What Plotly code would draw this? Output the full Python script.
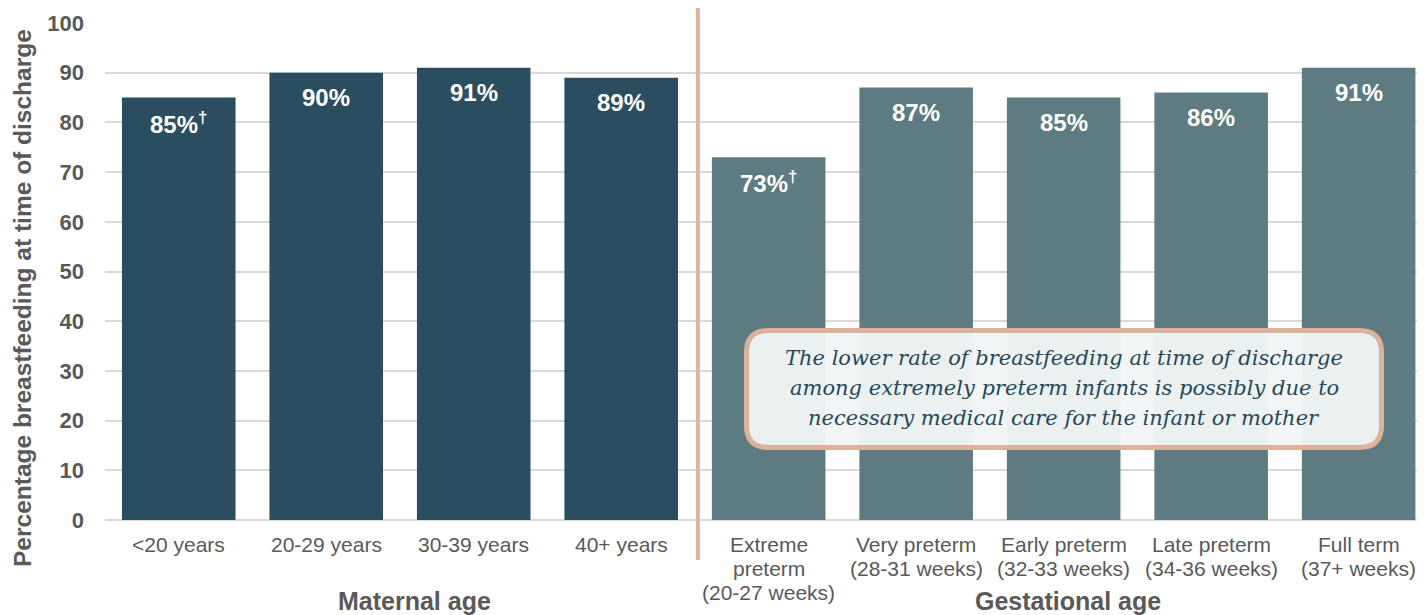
import plotly.graph_objects as go

# ---- data ----
maternal_labels = ["<20 years", "20-29 years", "30-39 years", "40+ years"]
maternal_values = [85, 90, 91, 89]
maternal_text = ["85%<sup>†</sup>", "90%", "91%", "89%"]

gest_labels = ["Extreme<br>preterm<br>(20-27 weeks)", "Very preterm<br>(28-31 weeks)",
               "Early preterm<br>(32-33 weeks)", "Late preterm<br>(34-36 weeks)",
               "Full term<br>(37+ weeks)"]
gest_values = [73, 87, 85, 86, 91]
gest_text = ["73%<sup>†</sup>", "87%", "85%", "86%", "91%"]

y_ticks = [0, 10, 20, 30, 40, 50, 60, 70, 80, 90, 100]

note_lines = ["The lower rate of breastfeeding at time of discharge",
              "among extremely preterm infants is possibly due to",
              "necessary medical care for the infant or mother"]

# ---- style ----
DARK = "#2a4d5f"
LIGHT = "#5d7b80"
ACCENT = "#dbb39d"
GRAY = "#595959"
SANS = "Liberation Sans, Arial, sans-serif"
OFF = 8                      # page body margin in the browser
W, H = 1425 - OFF, 615 - OFF
ML, MT = 105 - OFF, 23 - OFF
PLOT_BOTTOM = 520 - OFF
MR, MB = 0, H - PLOT_BOTTOM
PW, PH = W - ML - MR, H - MT - MB


def px2paper_x(px):
    """screen pixel -> paper x"""
    return (px - OFF - ML) / PW


def px2paper_y(py):
    """screen pixel -> paper y"""
    return (PLOT_BOTTOM - (py - OFF)) / PH


fig = go.Figure()
fig.add_trace(go.Bar(x=maternal_labels, y=maternal_values, marker_color=DARK,
                     marker_line_width=0, width=0.77, hoverinfo="y"))
fig.add_trace(go.Bar(x=gest_labels, y=gest_values, marker_color=LIGHT,
                     marker_line_width=0, width=0.77, hoverinfo="y"))

# value labels inside bars
for cats, vals, txts in [(maternal_labels, maternal_values, maternal_text),
                         (gest_labels, gest_values, gest_text)]:
    for c, v, t in zip(cats, vals, txts):
        fig.add_annotation(x=c, y=v, xref="x", yref="y", text=t, showarrow=False,
                           yshift=-25, yanchor="middle",
                           font=dict(family=SANS, size=24, color="white", weight="bold"))

# category labels (one annotation per line for exact line spacing)
for c in maternal_labels + gest_labels:
    for k, part in enumerate(c.split("<br>")):
        fig.add_annotation(x=c, y=px2paper_y(544 + 24 * k), xref="x", yref="paper",
                           text=part, showarrow=False, yanchor="middle",
                           font=dict(family=SANS, size=21, color=GRAY))

# divider line
fig.add_shape(type="line", xref="x", yref="paper", x0=3.52, x1=3.52,
              y0=px2paper_y(560), y1=px2paper_y(8),
              line=dict(color=ACCENT, width=4), layer="above")

# rounded note box (paper coordinates)
bx0, bx1, by0, by1, r = 746.5, 1381.5, 330.5, 447.5, 22
X0, X1 = px2paper_x(bx0), px2paper_x(bx1)
Yt, Yb = px2paper_y(by0), px2paper_y(by1)
rx, ry = r / PW, r / PH
path = (f"M {X0+rx},{Yt} L {X1-rx},{Yt} Q {X1},{Yt} {X1},{Yt-ry} "
        f"L {X1},{Yb+ry} Q {X1},{Yb} {X1-rx},{Yb} "
        f"L {X0+rx},{Yb} Q {X0},{Yb} {X0},{Yb+ry} "
        f"L {X0},{Yt-ry} Q {X0},{Yt} {X0+rx},{Yt} Z")
fig.add_shape(type="path", xref="paper", yref="paper", path=path,
              fillcolor="rgba(241,245,246,0.96)", line=dict(color=ACCENT, width=5),
              layer="above")
cx = px2paper_x((bx0 + bx1) / 2)
for line, py in zip(note_lines, [358, 388, 418]):
    fig.add_annotation(x=cx, y=px2paper_y(py), xref="paper", yref="paper", text=line,
                       showarrow=False, xanchor="center", yanchor="middle",
                       font=dict(family="DejaVu Serif, Georgia, serif", size=21,
                                 color="#244859", style="italic"))

# group titles
fig.add_annotation(x=1.6, y=px2paper_y(601), xref="x", yref="paper", text="Maternal age",
                   showarrow=False, yanchor="middle",
                   font=dict(family=SANS, size=25, color=GRAY, weight="bold"))
fig.add_annotation(x=6.03, y=px2paper_y(601), xref="x", yref="paper", text="Gestational age",
                   showarrow=False, yanchor="middle",
                   font=dict(family=SANS, size=25, color=GRAY, weight="bold"))

# y axis title
fig.add_annotation(x=px2paper_x(22), y=px2paper_y(298), xref="paper", yref="paper",
                   text="Percentage breastfeeding at time of discharge", textangle=-90,
                   showarrow=False, xanchor="center", yanchor="middle",
                   font=dict(family=SANS, size=24.5, color=GRAY, weight="bold"))

fig.update_layout(
    width=W, height=H, margin=dict(l=ML, r=MR, t=MT, b=MB),
    plot_bgcolor="white", paper_bgcolor="white", showlegend=False, bargap=0.23,
    xaxis=dict(type="category", range=[-0.5, 8.45], showgrid=False, zeroline=False,
               showline=False, ticks="", showticklabels=False),
    yaxis=dict(range=[0, 100], tickvals=y_ticks, showgrid=True, gridcolor="#d9d9d9",
               gridwidth=1.5, zeroline=True, zerolinecolor="#d9d9d9", zerolinewidth=1.5,
               showline=False, ticks="", ticklabelstandoff=20,
               tickfont=dict(family=SANS, size=22, color=GRAY, weight="bold")),
)

fig.write_html("out.html")
